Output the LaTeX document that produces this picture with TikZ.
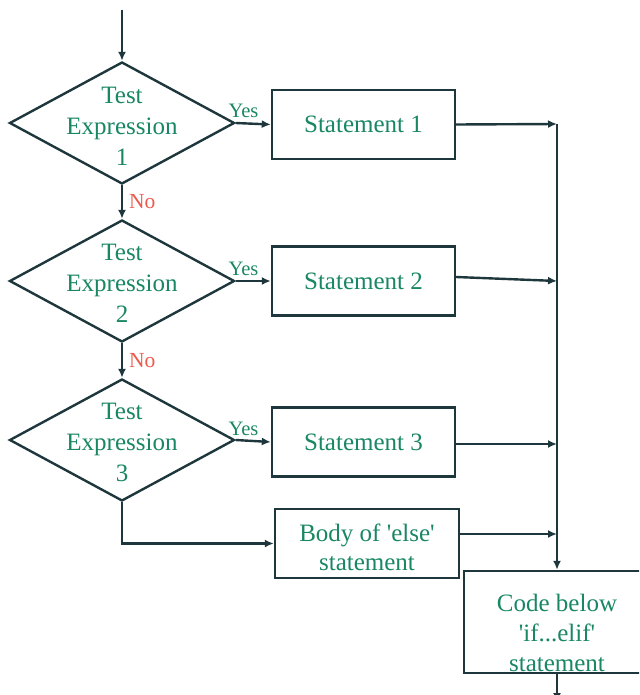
\documentclass[tikz,border=0pt]{standalone}
\usepackage{fontspec}
% Times-metric serif face; TeX ligature mapping off so ' stays a straight quote
\newfontfamily\flowfont{Liberation Serif}[Ligatures=TeXOff]
\usetikzlibrary{shapes.geometric,arrows.meta}

\definecolor{ink}{RGB}{30,55,60}
\definecolor{leaf}{RGB}{25,135,100}
\definecolor{nored}{RGB}{235,90,75}

\begin{document}
\begin{tikzpicture}[x=1pt,y=-1pt,
  decision/.style={diamond, draw=ink, line width=2.4pt, fill=white,
    minimum width=225pt, minimum height=122pt, inner sep=0pt},
  procbox/.style={rectangle, draw=ink, line width=2.4pt, fill=white,
    minimum width=183pt, minimum height=69pt, inner sep=0pt,
    align=center, text=leaf, font=\flowfont\fontsize{25}{29}\selectfont},
  boxtext/.style={align=center, text=leaf, inner sep=0pt,
    font=\flowfont\fontsize{25}{31}\selectfont},
  yeslbl/.style={text=leaf, inner sep=1pt, font=\flowfont\fontsize{20.5}{22}\selectfont},
  nolbl/.style={text=nored, inner sep=1pt, font=\flowfont\fontsize{21.5}{22}\selectfont},
  flow/.style={draw=ink, line width=2.4pt, -{Latex[length=9pt,width=8pt]}}
]
\useasboundingbox (0,0) rectangle (639,695);
\clip (0,0) rectangle (639,695);

% decisions
\node[decision] (d1) at (122,123) {};
\node[boxtext] (t1) at (122,126) {Test\\Expression\\1};
\node[decision] (d2) at (122,281) {};
\node[boxtext] (t2) at (122,283) {Test\\Expression\\2};
\node[decision] (d3) at (122,440) {};
\node[boxtext] (t3) at (122,442) {Test\\Expression\\3};

% statements
\node[procbox] (b1) at (363.5,124.5) {Statement 1};
\node[procbox] (b2) at (363.5,281) {Statement 2};
\node[procbox] (b3) at (363.5,442) {Statement 3};
\node[procbox, minimum width=184pt] (b4) at (367,543.5) {};
\node[boxtext, font=\flowfont\fontsize{25}{29}\selectfont] (t4) at (367,547)
  {Body of 'else'\\statement};

% code after the chain
\node[rectangle, draw=ink, line width=2.4pt, fill=white,
  minimum width=186pt, minimum height=102pt] (fin) at (557,622) {};
\node[boxtext, font=\flowfont\fontsize{25}{30}\selectfont] (tf) at (557,633)
  {Code below\\'if...elif'\\statement};

% free ends and junctions on the collecting line
\coordinate (entry) at (122,10);
\coordinate (exit) at (557,702);
\coordinate (j1) at (557,124);
\coordinate (j2) at (557,281);
\coordinate (j3) at (557,444);
\coordinate (j4) at (557,534);

% flow through the tests
\draw[flow] (entry) -- (d1.north);
\draw[flow] (d1.east) -- node[yeslbl, pos=0.22, anchor=south, yshift=3pt] {Yes} (b1.west);
\draw[flow] (d1.south) -- node[nolbl, anchor=west, xshift=5pt] {No} (d2.north);
\draw[flow] (d2.east) -- node[yeslbl, pos=0.22, anchor=south, yshift=3pt] {Yes} (b2.west);
\draw[flow] (d2.south) -- node[nolbl, anchor=west, xshift=5pt] {No} (d3.north);
\draw[flow] (d3.east) -- node[yeslbl, pos=0.22, anchor=south, yshift=3pt] {Yes} (b3.west);
\draw[flow] (d3.south) |- (b4.west);

% statements join the collecting line
\draw[flow] (b1.east) -- (j1);
\draw[flow] ([yshift=4pt]b2.east) -- (j2);
\draw[flow] ([yshift=-2pt]b3.east) -- (j3);
\draw[flow] ([yshift=9.5pt]b4.east) -- (j4);
\draw[flow] (j1) -- (fin.north);
\draw[flow] (fin.south) -- (exit);
\end{tikzpicture}
\end{document}
